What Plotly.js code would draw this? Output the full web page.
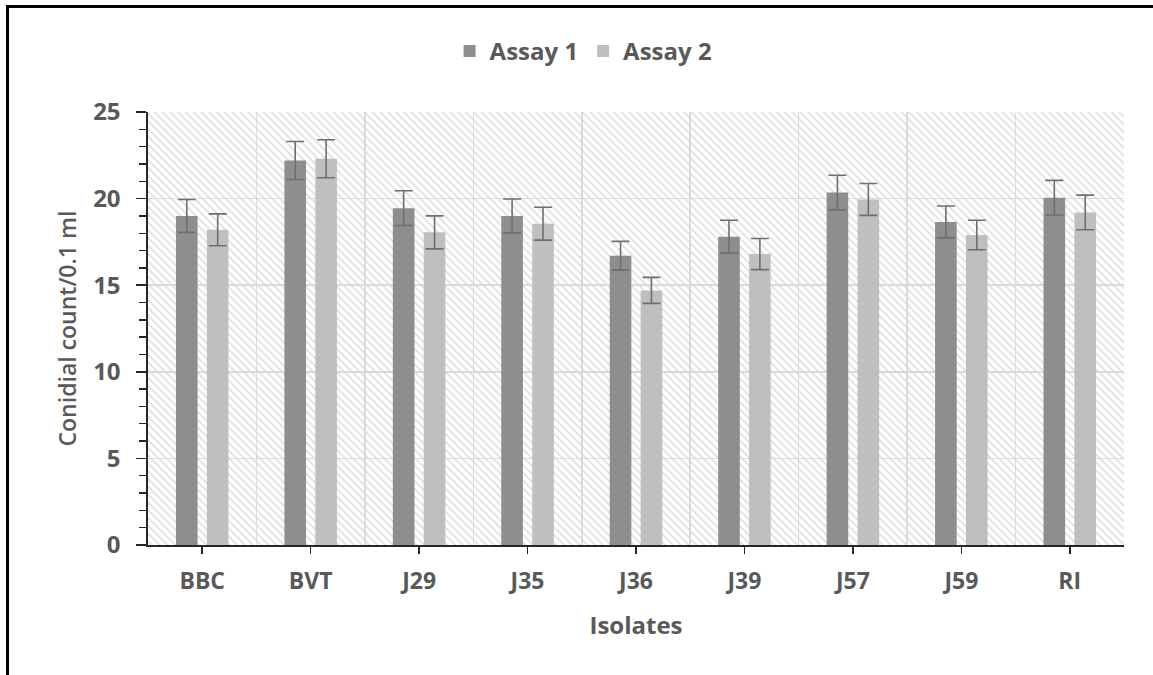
<!DOCTYPE html>
<html>
<head>
<meta charset="utf-8">
<script src="https://cdn.plot.ly/plotly-3.0.1.min.js"></script>
<style>
  html, body { margin: 0; padding: 0; background: #fff; }
  #wrap { position: relative; width: 1153px; height: 675px; overflow: hidden; }
  #chart { width: 1153px; height: 675px; }
  #frame { position: absolute; left: 6px; top: 5px; width: 1160px; height: 700px;
           border-top: 3px solid #000; border-left: 3px solid #000; pointer-events: none; }
</style>
</head>
<body>
<div id="wrap">
  <div id="chart"></div>
  <div id="frame"></div>
</div>
<script>
const categories = ["BBC", "BVT", "J29", "J35", "J36", "J39", "J57", "J59", "RI"];
const assay1 = [19.0, 22.2, 19.45, 19.0, 16.7, 17.8, 20.35, 18.65, 20.05];
const assay2 = [18.2, 22.3, 18.05, 18.55, 14.7, 16.8, 19.95, 17.9, 19.2];
const err1 = [0.95, 1.1, 1.0, 0.98, 0.83, 0.95, 1.0, 0.92, 1.0];
const err2 = [0.92, 1.1, 0.95, 0.95, 0.75, 0.9, 0.92, 0.85, 1.0];
const yTicks = [0, 5, 10, 15, 20, 25];
const yTitle = 'Conidial count/0.1 ml';

const xIdx = categories.map((c, i) => i);
const txt = '#595959';
const fontFam = '"Open Sans", Lato, sans-serif';

// hatch background image (sized to plot area)
const W = 976, H = 433;
const hatch = 'data:image/svg+xml;utf8,' + encodeURIComponent(
  `<svg xmlns="http://www.w3.org/2000/svg" width="${W}" height="${H}" viewBox="0 0 ${W} ${H}" preserveAspectRatio="none">` +
  `<defs><pattern id="p" width="5.5" height="5.5" patternUnits="userSpaceOnUse" patternTransform="rotate(45)">` +
  `<rect width="5.5" height="5.5" fill="#ffffff"/><rect x="0" y="0" width="5.5" height="1.7" fill="#e0e0e0"/></pattern></defs>` +
  `<rect width="${W}" height="${H}" fill="url(#p)"/></svg>`);

const errStyle = { type: 'data', visible: true, thickness: 1.6, width: 9, color: '#6f6f6f' };

const traces = [
  { type: 'bar', name: 'Assay 1', x: xIdx, y: assay1,
    marker: { color: '#8e8e8e', line: { width: 0 } },
    error_y: Object.assign({ array: err1 }, errStyle) },
  { type: 'bar', name: 'Assay 2', x: xIdx, y: assay2,
    marker: { color: '#bfbfbf', line: { width: 0 } },
    error_y: Object.assign({ array: err2 }, errStyle) }
];

const axLine = '#262626';
const layout = {
  width: 1153, height: 675,
  margin: { l: 148, r: 29, t: 112, b: 130 },
  paper_bgcolor: '#ffffff', plot_bgcolor: '#ffffff',
  font: { family: fontFam, color: txt },
  barmode: 'group', bargap: 0.43, bargroupgap: 0.3,
  showlegend: true,
  legend: { orientation: 'h', x: 0.309, xanchor: 'left', y: 1.14, yanchor: 'middle',
            font: { family: fontFam, size: 24, color: txt, weight: 'bold' },
            itemwidth: 30, traceorder: 'normal' },
  images: [{ source: hatch, xref: 'paper', yref: 'paper', x: 0, y: 1, sizex: 1, sizey: 1,
             xanchor: 'left', yanchor: 'top', sizing: 'stretch', layer: 'below' }],
  annotations: [{ text: yTitle, xref: 'paper', yref: 'paper', x: -0.083, y: 0.5,
                  xanchor: 'center', yanchor: 'middle', textangle: -90, showarrow: false,
                  font: { family: fontFam, size: 23, color: txt, weight: 600 } }],
  xaxis: {
    range: [-0.5, 8.5], tickmode: 'array', tickvals: xIdx, ticktext: categories,
    showgrid: false, zeroline: false,
    showline: true, linecolor: axLine, linewidth: 1.6,
    ticks: 'outside', ticklen: 7, tickwidth: 1.6, tickcolor: axLine,
    ticklabelstandoff: 8,
    tickfont: { family: fontFam, size: 23, color: txt, weight: 'bold' },
    minor: { tick0: -0.5, dtick: 1, showgrid: true, gridcolor: '#dadada', gridwidth: 1.5, ticks: '' },
    title: { text: 'Isolates', standoff: 22, font: { family: fontFam, size: 24, color: txt, weight: 'bold' } }
  },
  yaxis: {
    range: [0, 25], tickmode: 'array', tickvals: yTicks,
    showgrid: true, gridcolor: '#dadada', gridwidth: 1.5, zeroline: false,
    showline: true, linecolor: axLine, linewidth: 1.6,
    ticks: 'outside', ticklen: 10, tickwidth: 1.6, tickcolor: axLine,
    ticklabelstandoff: 11,
    tickfont: { family: fontFam, size: 24, color: txt, weight: 'bold' },
    minor: { dtick: 1, ticks: 'outside', ticklen: 7, tickwidth: 1.4, tickcolor: axLine, showgrid: false }
  },
  yaxis2: {
    overlaying: 'y', side: 'left', range: [0, 25], tickmode: 'array', tickvals: yTicks,
    showgrid: false, zeroline: false, showline: false, showticklabels: false,
    ticks: 'inside', ticklen: 10, tickwidth: 1.6, tickcolor: axLine
  }
};

Plotly.newPlot('chart', traces, layout, { displayModeBar: false, staticPlot: true });
</script>
</body>
</html>
